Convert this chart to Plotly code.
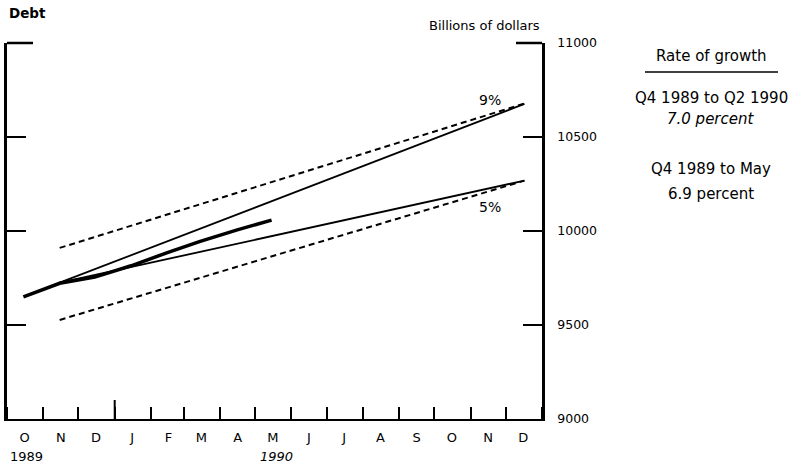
import pandas as pd
import plotly.graph_objects as go

# ---- data ----
actual_dates = ["1989-10-15", "1989-11-15", "1989-12-15", "1990-01-15",
                "1990-02-15", "1990-03-15", "1990-04-15", "1990-05-15"]
actual_debt = [9650, 9722, 9755, 9815, 9885, 9945, 10005, 10058]

cone_dates = ["1989-11-15", "1990-12-17"]
growth_9pct = [9725, 10676]
growth_5pct = [9725, 10268]
range_upper = [9910, 10678]
range_lower = [9527, 10268]

month_letters = ["O", "N", "D", "J", "F", "M", "A", "M", "J", "J", "A", "S", "O", "N", "D"]
y_ticks = [9000, 9500, 10000, 10500, 11000]
y_tick_labels = ["9000", "9500", "10000", "10500", "11000"]

FONT = "DejaVu Sans"
BLACK = "#000000"

month_starts = pd.date_range("1989-10-01", periods=len(month_letters), freq="MS")
month_mids = [d + pd.Timedelta(days=15) for d in month_starts]

fig = go.Figure()

for yv in (range_upper, range_lower):
    fig.add_trace(go.Scatter(x=cone_dates, y=yv, mode="lines",
                             line=dict(color=BLACK, width=2, dash="6px,4px"),
                             showlegend=False, hoverinfo="skip"))
for yv in (growth_9pct, growth_5pct):
    fig.add_trace(go.Scatter(x=cone_dates, y=yv, mode="lines",
                             line=dict(color=BLACK, width=1.8),
                             showlegend=False, hoverinfo="skip"))
fig.add_trace(go.Scatter(x=actual_dates, y=actual_debt, mode="lines",
                         line=dict(color=BLACK, width=3.5),
                         showlegend=False, hoverinfo="skip"))

fig.update_layout(
    width=794, height=469,
    margin=dict(l=7, r=252, t=43, b=50, autoexpand=False),
    paper_bgcolor="white", plot_bgcolor="white",
    font=dict(family=FONT, color=BLACK),
    xaxis=dict(
        type="date",
        range=["1989-10-01", "1991-01-01"],
        tickvals=month_mids, ticktext=month_letters,
        ticks="", showgrid=False, zeroline=False,
        showline=True, linewidth=2, linecolor=BLACK, mirror=False,
        tickfont=dict(family=FONT, size=13, color=BLACK),
        ticklabelstandoff=5,
        minor=dict(ticks="inside", ticklen=12, tickwidth=2, tickcolor=BLACK,
                   dtick="M1", tick0="1989-11-01", showgrid=False),
    ),
    yaxis=dict(
        side="right", range=[9000, 11000],
        tickvals=y_ticks, ticktext=y_tick_labels,
        ticks="inside", ticklen=19, tickwidth=2, tickcolor=BLACK,
        showline=True, linewidth=2.5, linecolor=BLACK, mirror="ticks",
        showgrid=False, zeroline=False,
        tickfont=dict(family=FONT, size=12.5, color=BLACK),
        ticklabelstandoff=10,
    ),
)

PW = 794 - 7 - 252
PH = 469 - 43 - 50

shapes = [
    # taller year-boundary tick
    dict(type="line", xref="x", yref="paper", x0="1990-01-01", x1="1990-01-01",
         y0=0, y1=19 / PH, line=dict(color=BLACK, width=2)),
    # longer corner ticks at top
    dict(type="line", xref="paper", yref="paper", x0=0, x1=26 / PW, y0=1, y1=1,
         line=dict(color=BLACK, width=2.5)),
    dict(type="line", xref="paper", yref="paper", x0=1 - 26 / PW, x1=1, y0=1, y1=1,
         line=dict(color=BLACK, width=2.5)),
    # rule under "Rate of growth"
    dict(type="line", xref="paper", yref="paper",
         x0=(645 - 7) / PW, x1=(778 - 7) / PW,
         y0=1 - (72 - 43) / PH, y1=1 - (72 - 43) / PH,
         line=dict(color=BLACK, width=1.3)),
]
fig.update_layout(shapes=shapes)

def ann(text, x, y, size, xanchor="center", xref="paper", yref="paper", yanchor="middle"):
    fig.add_annotation(text=text, x=x, y=y, xref=xref, yref=yref, showarrow=False,
                       xanchor=xanchor, yanchor=yanchor,
                       font=dict(family=FONT, size=size, color=BLACK))

def py(ypix):
    return 1 - (ypix - 43) / PH

def px(xpix):
    return (xpix - 7) / PW

ann("<b>Debt</b>", 0, py(13), 13.5, xanchor="left")
ann("Billions of dollars", 1, py(25), 13, xanchor="right")
ann("Rate of growth", px(711), py(56), 15)
ann("Q4 1989 to Q2 1990", px(711), py(98), 15)
ann("<i>7.0 percent</i>", px(711), py(119), 15)
ann("Q4 1989 to May", px(711), py(169), 15)
ann("6.9 percent", px(711), py(194), 15)
ann("1989", px(8), py(456), 13, xanchor="left")
ann("<i>1990</i>", px(276), py(456), 13)
ann("9%", "1990-11-18", 10695, 14, xref="x", yref="y")
ann("5%", "1990-11-18", 10126, 14, xref="x", yref="y")

fig.write_html("out.html",
               config={"displayModeBar": False},
               post_script="document.body.style.margin='0';document.body.style.padding='0';")
